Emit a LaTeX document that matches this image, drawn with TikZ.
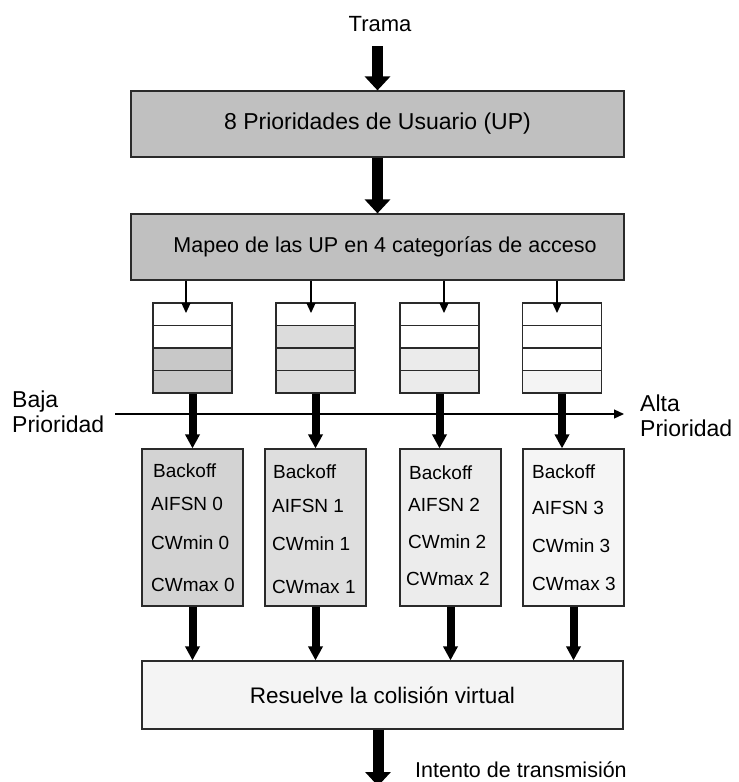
\documentclass[tikz,border=0pt]{standalone}
\usepackage{fontspec}
\setmainfont{Liberation Sans}
\usetikzlibrary{arrows.meta}
\definecolor{gtop}{HTML}{C0C0C0}
\definecolor{qa}{HTML}{C8C8C8}
\definecolor{qb}{HTML}{DCDCDC}
\definecolor{qc}{HTML}{EBEBEB}
\definecolor{qd}{HTML}{F4F4F4}
\definecolor{ba}{HTML}{D3D3D3}
\definecolor{bb}{HTML}{DEDEDE}
\definecolor{bc}{HTML}{ECECEC}
\definecolor{bd}{HTML}{F5F5F5}
\definecolor{edge}{HTML}{2A2A2A}
\begin{document}
\begin{tikzpicture}[x=1pt,y=-1pt,
  bigbox/.style={draw=edge,line width=1.2pt,minimum width=493pt,minimum height=66pt,inner sep=0pt,font=\fontsize{21.5}{24}\selectfont},
  cell/.style={draw=edge,line width=1.2pt,minimum width=79pt,minimum height=22.5pt,inner sep=0pt},
  bobox/.style={draw=edge,line width=1.2pt,minimum width=101pt,minimum height=157pt,inner sep=0pt},
  botext/.style={anchor=west,inner sep=0pt,font=\fontsize{19}{22}\selectfont},
  bigarrow/.style={line width=11pt,-{Triangle[width=25pt,length=14pt]}},
  midarrow/.style={line width=8pt,-{Triangle[width=14pt,length=14pt]}},
  thinarrow/.style={line width=1.2pt,-{Triangle[width=9pt,length=10pt]}},
  lbl/.style={inner sep=0pt}
]
\useasboundingbox (0,0) rectangle (739,782);

% top part
\node[lbl,font=\fontsize{22}{24}\selectfont] (trama) at (380,24) {Trama};
\coordinate (ts) at (377.5,46);
\node[bigbox,fill=gtop,font=\fontsize{23}{25}\selectfont] (up) at (377.5,124) {8 Prioridades de Usuario (UP)};
\node[bigbox,fill=gtop] (map) at (377.5,247) {\hspace*{15pt}Mapeo de las UP en 4 categorías de acceso};
\draw[bigarrow] (ts) -- (up.north);
\draw[bigarrow] (up.south) -- (map.north);

% queues
\node[cell,fill=white] (q1a) at (192.5,314.25) {};
\node[cell,fill=white] (q1b) at (192.5,336.75) {};
\node[cell,fill=qa]    (q1c) at (192.5,359.25) {};
\node[cell,fill=qa]    (q1d) at (192.5,381.75) {};
\node[cell,fill=white] (q2a) at (315.5,314.25) {};
\node[cell,fill=qb]    (q2b) at (315.5,336.75) {};
\node[cell,fill=qb]    (q2c) at (315.5,359.25) {};
\node[cell,fill=qb]    (q2d) at (315.5,381.75) {};
\node[cell,fill=white] (q3a) at (439.5,314.25) {};
\node[cell,fill=white] (q3b) at (439.5,336.75) {};
\node[cell,fill=qc]    (q3c) at (439.5,359.25) {};
\node[cell,fill=qc]    (q3d) at (439.5,381.75) {};
\node[cell,fill=white] (q4a) at (562,314.25) {};
\node[cell,fill=white] (q4b) at (562,336.75) {};
\node[cell,fill=white] (q4c) at (562,359.25) {};
\node[cell,fill=qd]    (q4d) at (562,381.75) {};

\coordinate (t1) at (186,313);
\coordinate (t2) at (311,313);
\coordinate (t3) at (444,313);
\coordinate (t4) at (557,313);
\foreach \i in {1,2,3,4} \draw[thinarrow] (map.south -| t\i) -- (t\i);

% priority axis
\coordinate (hl) at (115,414);
\coordinate (hr) at (624,414);
\draw[thinarrow] (hl) -- (hr);
\node[lbl,anchor=west,align=left,font=\fontsize{23}{25}\selectfont] (baja) at (12,412) {Baja\\Prioridad};
\node[lbl,anchor=west,align=left,font=\fontsize{23}{25}\selectfont] (alta) at (640,416) {Alta\\Prioridad};

% backoff boxes
\node[bobox,fill=ba] (b1) at (192.5,527.5) {};
\node[bobox,fill=bb] (b2) at (315.5,527.5) {};
\node[bobox,fill=bc] (b3) at (450.5,527.5) {};
\node[bobox,fill=bd] (b4) at (573.5,527.5) {};

\node[botext] (b1l1) at (153,471) {Backoff};
\node[botext] (b1l2) at (151,504) {AIFSN 0};
\node[botext] (b1l3) at (151,543) {CWmin 0};
\node[botext] (b1l4) at (151,585) {CWmax 0};
\node[botext] (b2l1) at (273,472) {Backoff};
\node[botext] (b2l2) at (272,506) {AIFSN 1};
\node[botext] (b2l3) at (272,544) {CWmin 1};
\node[botext] (b2l4) at (272,587) {CWmax 1};
\node[botext] (b3l1) at (409,473) {Backoff};
\node[botext] (b3l2) at (408,505) {AIFSN 2};
\node[botext] (b3l3) at (408,542) {CWmin 2};
\node[botext] (b3l4) at (406,579) {CWmax 2};
\node[botext] (b4l1) at (532,472) {Backoff};
\node[botext] (b4l2) at (532,508) {AIFSN 3};
\node[botext] (b4l3) at (532,546) {CWmin 3};
\node[botext] (b4l4) at (532,584) {CWmax 3};

\draw[midarrow] (q1d.south) -- (b1.north -| q1d.south);
\draw[midarrow] (q2d.south) -- (b2.north -| q2d.south);
\draw[midarrow] (q3d.south) -- (b3.north -| q3d.south);
\draw[midarrow] (q4d.south) -- (b4.north -| q4d.south);

% resolve
\node[draw=edge,line width=1.2pt,fill=qd,minimum width=481pt,minimum height=68pt,inner sep=0pt,font=\fontsize{22.5}{24}\selectfont] (res) at (382.5,695) {Resuelve la colisión virtual};
\foreach \i in {1,2,3,4} \draw[midarrow] (b\i.south) -- (res.north -| b\i.south);

\coordinate (fe) at (378,786);
\draw[bigarrow] (res.south -| fe) -- (fe);
\node[lbl,anchor=base west,font=\fontsize{21.5}{24}\selectfont] (intento) at (415,777) {Intento de transmisión};
\end{tikzpicture}
\end{document}
